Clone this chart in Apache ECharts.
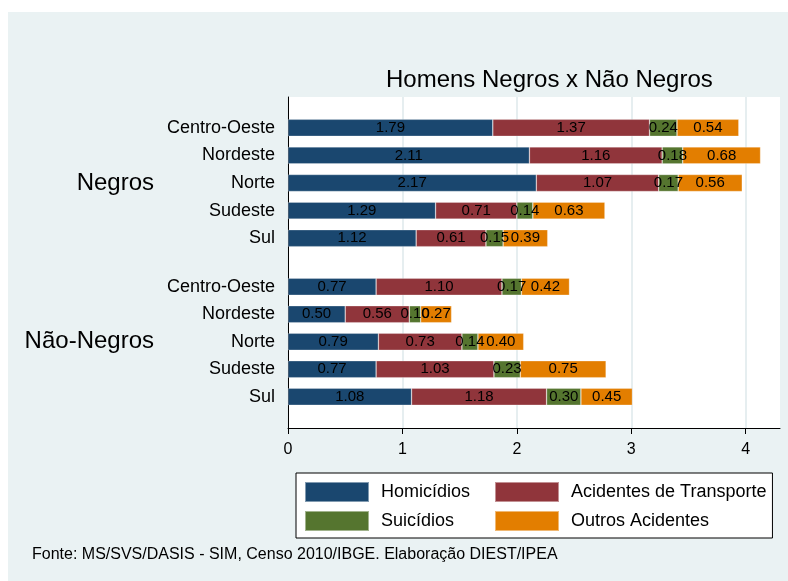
<!DOCTYPE html>
<html>
<head>
<meta charset="utf-8">
<script src="https://cdn.jsdelivr.net/npm/echarts@6/dist/echarts.min.js"></script>
<style>
    html, body { margin: 0; padding: 0; background: #ffffff; }
    #chart { position: absolute; left: 8px; top: 12px; width: 780px; height: 569px; }
</style>
</head>
<body>
<div id="chart"></div>
<script>
// regioes (de cima para baixo)
var regioes = ['Centro-Oeste', 'Nordeste', 'Norte', 'Sudeste', 'Sul'];
var seriesNomes = ['Homicídios', 'Acidentes de Transporte', 'Suicídios', 'Outros Acidentes'];
var cores = ['#1a476f', '#90353b', '#55752f', '#e37e00'];
var xTicks = [0, 1, 2, 3, 4];

// Homens negros
var homicidiosNegros = [1.79, 2.11, 2.17, 1.29, 1.12];
var transporteNegros = [1.37, 1.16, 1.07, 0.71, 0.61];
var suicidiosNegros = [0.24, 0.18, 0.17, 0.14, 0.15];
var outrosNegros = [0.54, 0.68, 0.56, 0.63, 0.39];

// Homens nao negros
var homicidiosNaoNegros = [0.77, 0.50, 0.79, 0.77, 1.08];
var transporteNaoNegros = [1.10, 0.56, 0.73, 1.03, 1.18];
var suicidiosNaoNegros = [0.17, 0.10, 0.14, 0.23, 0.30];
var outrosNaoNegros = [0.42, 0.27, 0.40, 0.75, 0.45];

var fonte = 'Liberation Sans, Arial, Helvetica, sans-serif';

function montaSeries(grupo, idx, dados){
    var lista = [];
    for (var i = 0; i < dados.length; i++) {
        lista.push({
            name: seriesNomes[i],
            type: 'bar',
            stack: grupo,
            xAxisIndex: idx,
            yAxisIndex: idx,
            barWidth: 17,
            itemStyle: {
                color: cores[i],
                borderColor: 'rgba(255,255,255,0.45)',
                borderWidth: 0.6
            },
            label: {
                show: true,
                position: 'inside',
                color: '#000',
                fontFamily: fonte,
                fontSize: 15,
                textBorderWidth: 0,
                formatter: function(p){ return p.value.toFixed(2); }
            },
            data: dados[i]
        });
    }
    return lista;
}

function eixoX(idx, visivel){
    return {
        type: 'value',
        gridIndex: idx,
        min: 0,
        max: 4.3,
        interval: 1,
        show: visivel,
        axisLine: { show: true, onZero: false, lineStyle: { color: '#000', width: 1 } },
        axisTick: { show: true, length: 6, customValues: xTicks, lineStyle: { color: '#000' } },
        axisLabel: { customValues: xTicks, color: '#000', fontFamily: fonte, fontSize: 16, margin: 14 },
        splitLine: { show: visivel, lineStyle: { color: '#e6eef0', width: 2 } }
    };
}

function eixoY(idx, nome){
    return {
        type: 'category',
        gridIndex: idx,
        inverse: true,
        data: regioes,
        name: nome,
        nameLocation: 'middle',
        nameRotate: 0,
        nameGap: 134,
        nameTextStyle: { color: '#000', fontFamily: fonte, fontSize: 24, align: 'right' },
        axisLine: { show: false },
        axisTick: { show: false },
        axisLabel: { color: '#000', fontFamily: fonte, fontSize: 18, margin: 13 }
    };
}

var chart = echarts.init(document.getElementById('chart'));
var option = {
    backgroundColor: '#eaf2f3',
    animation: false,
    title: [
        {
            text: 'Homens Negros x Não Negros',
            left: 373,
            top: 51,
            textStyle: { color: '#000', fontFamily: fonte, fontSize: 24, fontWeight: 'normal' }
        },
        {
            text: 'Fonte: MS/SVS/DASIS - SIM, Censo 2010/IBGE. Elaboração DIEST/IPEA',
            left: 19,
            top: 530,
            textStyle: { color: '#000', fontFamily: fonte, fontSize: 16, fontWeight: 'normal' }
        }
    ],
    legend: {
        data: seriesNomes,
        left: 288,
        top: 461,
        width: 480,
        padding: [8, 6, 6, 8],
        itemWidth: 64,
        itemHeight: 20,
        itemGap: 7,
        backgroundColor: '#fff',
        borderColor: '#000',
        borderWidth: 1,
        borderRadius: 0,
        selectedMode: false,
        icon: 'rect',
        formatter: '{t|{name}}',
        textStyle: {
            color: '#000',
            fontFamily: fonte,
            fontSize: 18,
            rich: {
                t: {
                    fontFamily: fonte,
                    fontSize: 18,
                    lineHeight: 20,
                    width: 106,
                    padding: [0, 0, 0, 7]
                }
            }
        }
    },
    grid: [
        { left: 280, right: 8, top: 85, bottom: 153, show: true, backgroundColor: '#fff', borderWidth: 0 },
        { left: 280, right: 8, top: 102, height: 138 },
        { left: 280, right: 8, top: 261, height: 137.5 }
    ],
    xAxis: [eixoX(0, true), eixoX(1, false), eixoX(2, false)],
    yAxis: [
        {
            type: 'value',
            gridIndex: 0,
            axisLine: { show: true, lineStyle: { color: '#000', width: 1 } },
            axisTick: { show: false },
            axisLabel: { show: false },
            splitLine: { show: false }
        },
        eixoY(1, 'Negros'),
        eixoY(2, 'Não-Negros')
    ],
    series: [].concat(
        montaSeries('negros', 1, [homicidiosNegros, transporteNegros, suicidiosNegros, outrosNegros]),
        montaSeries('naoNegros', 2, [homicidiosNaoNegros, transporteNaoNegros, suicidiosNaoNegros, outrosNaoNegros])
    )
};
chart.setOption(option);
</script>
</body>
</html>
